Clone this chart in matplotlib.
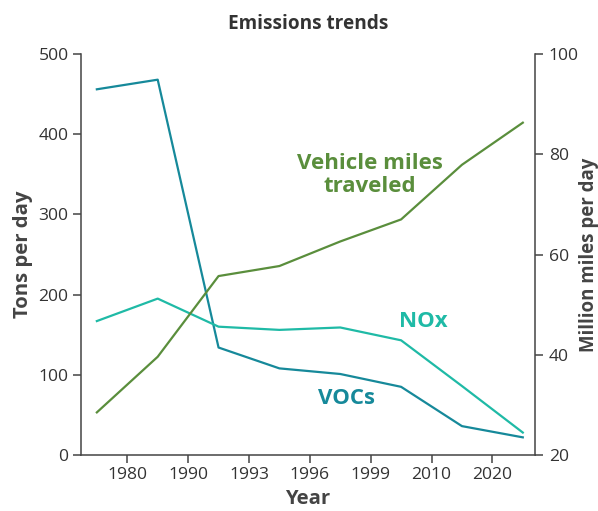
import matplotlib
matplotlib.use("Agg")
from matplotlib import pyplot as plt
import numpy as np

plt.rcParams['font.family'] = ['Open Sans', 'DejaVu Sans']

year_labels = ["1980", "1990", "1993", "1996", "1999", "2010", "2020"]
vocs = [456, 468, 134, 108, 101, 85, 36, 22]
nox = [167, 195, 160, 156, 159, 143, 86, 28]
vmt = [28.5, 39.6, 55.7, 57.7, 62.6, 67.0, 77.9, 86.3]

c_voc = "#16899a"
c_nox = "#1fbaa6"
c_vmt = "#5a8e3c"
c_axis = "#444444"

fig = plt.figure(figsize=(5.98, 5.11), dpi=100)
ax = fig.add_axes([0.1355, 0.1096, 0.7591, 0.7847])
ax2 = ax.twinx()

x = np.arange(len(vocs))
ax.plot(x, vocs, color=c_voc, lw=1.6)
ax.plot(x, nox, color=c_nox, lw=1.6)
ax2.plot(x, vmt, color=c_vmt, lw=1.6)

ax.set_xlim(-0.26, 7.2)
ax.set_ylim(0, 500)
ax2.set_ylim(20, 100)
ax.set_xticks(np.arange(len(year_labels)) + 0.5)
ax.set_xticklabels(year_labels)
ax.set_yticks([0, 100, 200, 300, 400, 500])
ax2.set_yticks([20, 40, 60, 80, 100])


def fit_size(text, target_px, size=12, weight='normal'):
    # scale font size so the text's longest side is target_px wide
    t = fig.text(0, 0, text, fontsize=size, fontweight=weight)
    bb = t.get_window_extent(fig.canvas.get_renderer())
    t.remove()
    return size * target_px / bb.width


tick_size = fit_size("1980", 40)

for a in (ax, ax2):
    a.spines['top'].set_visible(False)
    for s in a.spines.values():
        s.set_color(c_axis)
        s.set_linewidth(1.1)
    a.tick_params(colors=c_axis, labelcolor="#333333", labelsize=tick_size, length=6, width=1.1, pad=3)
ax2.tick_params(pad=4)
ax.spines['right'].set_visible(False)
ax2.spines['left'].set_visible(False)
ax2.spines['bottom'].set_visible(False)

lab_size = fit_size("Tons per day", 127, weight='bold')
ax.set_xlabel("Year", fontsize=lab_size, fontweight='bold', color="#444444", labelpad=4)
ax.set_ylabel("Tons per day", fontsize=lab_size, fontweight='bold', color="#444444", labelpad=4)
ax2.set_ylabel("Million miles per day", fontsize=lab_size * 0.92, fontweight='bold', color="#444444", labelpad=0)
ax.set_title("Emissions trends", fontsize=fit_size("Emissions trends", 159, weight='bold'),
             fontweight='bold', color="#333333", pad=18)

ser_size = fit_size("Vehicle miles", 145, weight='bold')
ax.text(4.49, 349, "Vehicle miles\ntraveled", color=c_vmt, fontsize=ser_size, fontweight='bold',
        ha='center', va='center', linespacing=1.08)
ax.text(5.37, 166, "NOx", color=c_nox, fontsize=ser_size, fontweight='bold', ha='center', va='center')
ax.text(4.11, 70, "VOCs", color=c_voc, fontsize=ser_size, fontweight='bold', ha='center', va='center')

fig.savefig("out.png", dpi=100)
